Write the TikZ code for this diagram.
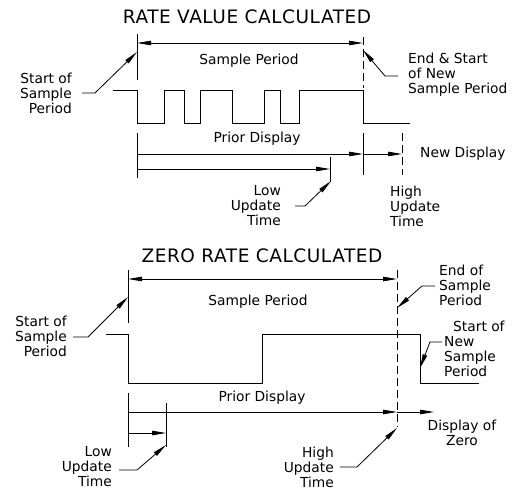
\documentclass[tikz,border=0pt]{standalone}
\usepackage{fontspec}
\setmainfont{DejaVu Sans}
\usetikzlibrary{arrows.meta}
\begin{document}
\begin{tikzpicture}[x=1pt,y=-1pt,
  ln/.style={line width=0.8pt},
  arr/.style={ln,-{Triangle[length=14pt,width=4.5pt]}},
  darr/.style={ln,{Triangle[length=14pt,width=4.5pt]}-{Triangle[length=14pt,width=4.5pt]}},
  dsh/.style={ln,dash pattern=on 8pt off 4pt},
  lbl/.style={inner sep=0pt,font=\fontsize{13.8}{15}\selectfont},
  ttl/.style={inner sep=0pt,font=\fontsize{18.5}{20}\selectfont\addfontfeature{LetterSpace=3}},
]
\useasboundingbox (0,0) rectangle (512,491);

% ================= TOP: RATE VALUE CALCULATED =================
\node[ttl,anchor=base] (t1) at (247,23) {RATE VALUE CALCULATED};

\coordinate (a0) at (137,34);  \coordinate (a1) at (137,80);
\draw[ln] (a0) -- (a1);
\coordinate (b0) at (363,37);  \coordinate (b1) at (363,88);
\draw[dsh] (b0) -- (b1);
\coordinate (spL) at (137,43); \coordinate (spR) at (363,43);
\draw[darr] (spL) -- (spR);
\node[lbl] (sp1) at (249,61) {Sample Period};

% waveform
\draw[ln] (113,90) -- (137,90) -- (137,123) -- (164,123) -- (164,90) -- (184,90)
  -- (184,123) -- (200,123) -- (200,90) -- (232,90) -- (232,123) -- (264,123)
  -- (264,90) -- (280,90) -- (280,123) -- (299,123) -- (299,90) -- (363,90)
  -- (363,123) -- (410,123);

% start label
\node[lbl,align=right,anchor=east] (sos1) at (72,93) {Start of\\Sample\\Period};
\coordinate (tipA) at (137,52);
\draw[arr] ([xshift=10pt]sos1.east) -- ++(13,0) -- (tipA);

% end & start label
\node[lbl,align=left,anchor=west] (es1) at (408,75) {End \& Start\\of New\\Sample Period};
\coordinate (tipB) at (363,50);
\draw[arr] (398,76) -- (385,76) -- (tipB);

% display lines
\coordinate (c0) at (137,133); \coordinate (c1) at (137,178);
\draw[ln] (c0) -- (c1);
\coordinate (d0) at (363,133); \coordinate (d1) at (363,175);
\draw[ln] (d0) -- (d1);
\coordinate (e0) at (402,133); \coordinate (e1) at (402,175);
\draw[dsh] (e0) -- (e1);
\coordinate (f0) at (330,157); \coordinate (f1) at (330,182);
\draw[ln] (f0) -- (f1);

\node[lbl] (pd1) at (257,139) {Prior Display};
\coordinate (pdL) at (137,154); \coordinate (pdR) at (363,154); \coordinate (ndR) at (402,154);
\draw[arr] (pdL) -- (pdR);
\draw[arr] (pdR) -- (ndR);
\node[lbl,anchor=west] (nd1) at (420,154) {New Display};

\coordinate (luL) at (137,169); \coordinate (luR) at (330,169);
\draw[arr] (luL) -- (luR);

\node[lbl,align=right,anchor=east] (lu1) at (281,206) {Low\\Update\\Time};
\coordinate (tipC) at (331,181);
\draw[arr] (295,206) -- (305,206) -- (tipC);

\node[lbl,align=left,anchor=west] (hu1) at (390,206) {High\\Update\\Time};

% ================= BOTTOM: ZERO RATE CALCULATED =================
\node[ttl,anchor=base] (t2) at (262,262) {ZERO RATE CALCULATED};

\coordinate (g0) at (128,270); \coordinate (g1) at (128,323);
\draw[ln] (g0) -- (g1);
\coordinate (h0) at (397,270); \coordinate (h1) at (397,427);
\draw[dsh] (h0) -- (h1);
\coordinate (sp2L) at (128,279); \coordinate (sp2R) at (397,279);
\draw[darr] (sp2L) -- (sp2R);
\node[lbl] (sp2) at (258,302) {Sample Period};

% waveform
\draw[ln] (106,334) -- (128,334) -- (128,383) -- (262,383) -- (262,334)
  -- (420,334) -- (420,383) -- (479,383);

\node[lbl,align=right,anchor=east] (sos2) at (67,336) {Start of\\Sample\\Period};
\coordinate (tipD) at (128,297);
\draw[arr] (73,337) -- (88,337) -- (tipD);

\node[lbl,align=left,anchor=west] (eo2) at (439,285) {End of\\Sample\\Period};
\coordinate (tipE) at (397,308);
\draw[arr] (435,286) -- (422,286) -- (tipE);

\node[lbl,align=left,anchor=west] (sn2) at (444,349) {\hspace{9pt}Start of\\New\\Sample\\Period};
\coordinate (tipF) at (420,368);
\draw[arr] (442,342) -- (430,342) -- (tipF);

% display lines
\coordinate (i0) at (128,393); \coordinate (i1) at (128,447);
\draw[ln] (i0) -- (i1);
\coordinate (j0) at (166,403); \coordinate (j1) at (166,447);
\draw[ln] (j0) -- (j1);

\node[lbl] (pd2) at (262,398) {Prior Display};
\coordinate (pd2L) at (128,412); \coordinate (pd2R) at (397,412); \coordinate (zR) at (434,412);
\draw[arr] (pd2L) -- (pd2R);
\draw[arr] (pd2R) -- (zR);
\node[lbl,align=center] (dz2) at (462,433) {Display of\\Zero};

\coordinate (lu2L) at (128,433); \coordinate (lu2R) at (166,433);
\draw[arr] (lu2L) -- (lu2R);

\node[lbl,align=right,anchor=east] (lu2) at (112,467) {Low\\Update\\Time};
\coordinate (tipG) at (166,445);
\draw[arr] (119,470) -- (137,470) -- (tipG);

\node[lbl,align=right,anchor=east] (hu2) at (334,467) {High\\Update\\Time};
\coordinate (tipH) at (397,428);
\draw[arr] (340,467) -- (357,467) -- (tipH);

\end{tikzpicture}
\end{document}
